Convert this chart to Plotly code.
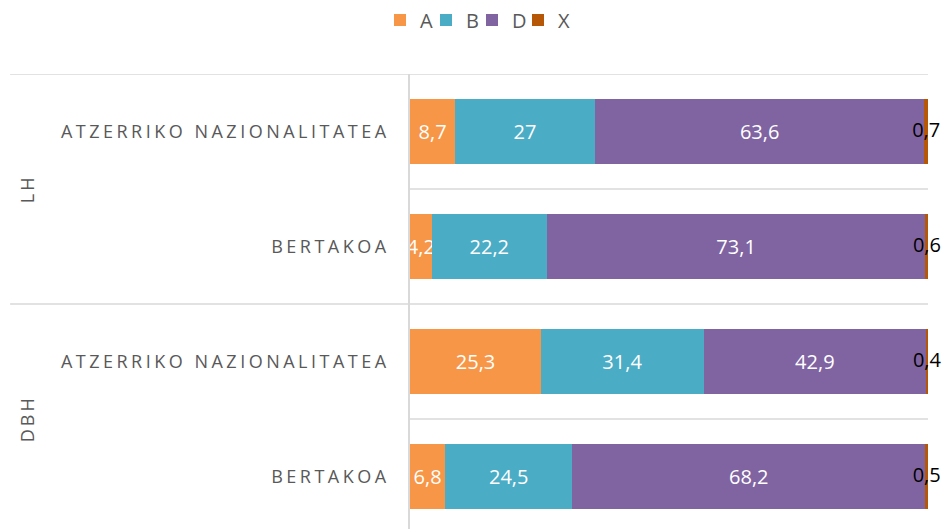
import plotly.graph_objects as go

# rows top to bottom
groups = ["LH", "LH", "DBH", "DBH"]
categories = ["ATZERRIKO NAZIONALITATEA", "BERTAKOA", "ATZERRIKO NAZIONALITATEA", "BERTAKOA"]

series_names = ["A", "B", "D", "X"]
values_a = [8.7, 4.2, 25.3, 6.8]
values_b = [27, 22.2, 31.4, 24.5]
values_d = [63.6, 73.1, 42.9, 68.2]
values_x = [0.7, 0.6, 0.4, 0.5]

colors = ["#F79646", "#4BACC6", "#8064A2", "#B65708"]

FONT = "Open Sans"
GREY = "#595959"
LINE = "#D9D9D9"


def fmt(v):
    return ("%g" % v).replace(".", ",")


def spaced(text, ls=3.5):
    return '<span style="letter-spacing:%spx">%s</span>' % (ls, text)


rows = list(range(len(categories)))
all_values = [values_a, values_b, values_d, values_x]

fig = go.Figure()
for i, (name, vals, col) in enumerate(zip(series_names, all_values, colors)):
    last = i == len(series_names) - 1
    fig.add_trace(go.Bar(
        name=name,
        y=rows,
        x=vals,
        orientation="h",
        width=0.56,
        marker=dict(color=col, line=dict(width=0)),
        text=None if last else [fmt(v) for v in vals],
        textposition="inside",
        insidetextanchor="middle",
        textangle=0,
        constraintext="none",
        cliponaxis=False,
        textfont=dict(color="white", size=20, family=FONT),
        hoverinfo="x+name",
    ))

# invisible legend entry so the compact legend does not clip the "X" label
fig.add_trace(go.Scatter(x=[None], y=[None], name="", mode="markers",
                         marker=dict(color="rgba(0,0,0,0)", size=1,
                                     line=dict(width=0, color="rgba(0,0,0,0)")),
                         hoverinfo="skip"))

# labels of the thin last segment, centred on it, in black
base = [sum(v[r] for v in all_values[:-1]) for r in rows]
fig.add_trace(go.Scatter(
    x=[b + x / 2 for b, x in zip(base, values_x)],
    y=rows,
    mode="text",
    text=[fmt(v) for v in values_x],
    textposition="middle center",
    textfont=dict(color="black", size=20, family=FONT),
    cliponaxis=False,
    showlegend=False,
    hoverinfo="skip",
))

# separators between rows / groups
shapes = []
for i, r in enumerate(rows):
    y0 = r - 0.5
    long_line = i == 0 or groups[i] != groups[i - 1]
    shapes.append(dict(type="line", xref="paper", yref="y",
                       x0=-0.772 if long_line else 0, x1=1, y0=y0, y1=y0,
                       line=dict(color=LINE, width=1.5), layer="below"))

# group labels, rotated
annotations = []
for g in dict.fromkeys(groups):
    idx = [r for r, gg in zip(rows, groups) if gg == g]
    annotations.append(dict(
        text=spaced(g, 3), xref="paper", yref="y",
        x=-0.739, xanchor="center", y=sum(idx) / len(idx), yanchor="middle",
        textangle=-90,
        showarrow=False, font=dict(size=18, color=GREY, family=FONT),
    ))

fig.update_layout(
    width=944, height=529,
    margin=dict(l=410, r=16, t=74, b=0),
    barmode="stack",
    paper_bgcolor="white",
    plot_bgcolor="white",
    font=dict(family=FONT, color=GREY),
    showlegend=True,
    legend=dict(orientation="h", xref="container", x=0.5 + 23 / 944, xanchor="center",
                yref="container", y=1 - 20 / 529, yanchor="middle",
                traceorder="normal",
                itemwidth=30, entrywidth=1, entrywidthmode="pixels",
                font=dict(size=20, color=GREY)),
    xaxis=dict(range=[0, 100], visible=False, fixedrange=True),
    yaxis=dict(
        range=[3.4565, -0.5],
        tickvals=rows,
        ticktext=[spaced(c) for c in categories],
        tickfont=dict(size=18, color=GREY, family=FONT),
        showgrid=False, zeroline=False,
        showline=True, linecolor=LINE, linewidth=1.5,
        ticks="", ticklabelstandoff=15,
        fixedrange=True,
    ),
    shapes=shapes,
    annotations=annotations,
)

# drop the default page margin so the figure fills the window exactly
fig.write_html("out.html", config={"displayModeBar": False},
               post_script="document.body.style.margin='0';document.body.style.overflow='hidden';")
